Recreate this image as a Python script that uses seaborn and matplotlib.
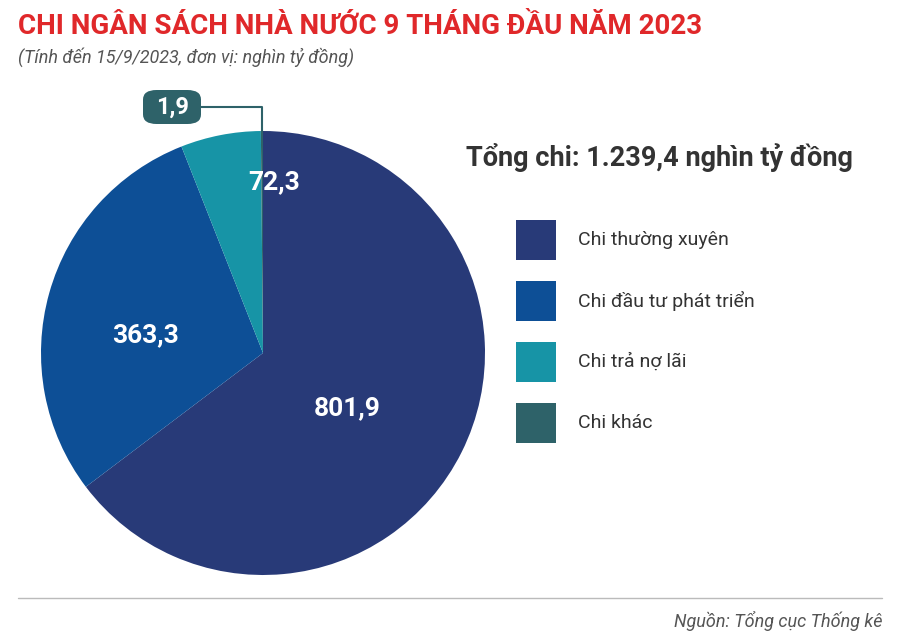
import matplotlib.pyplot as plt
import seaborn as sns
from matplotlib.patches import FancyBboxPatch, Rectangle
from matplotlib.lines import Line2D

labels = ["Chi thường xuyên", "Chi đầu tư phát triển", "Chi trả nợ lãi", "Chi khác"]
values = [801.9, 363.3, 72.3, 1.9]
value_text = ["801,9", "363,3", "72,3", "1,9"]
colors = ["#283a78", "#0d4f96", "#1794a6", "#2e6269"]

sns.set_theme(style="white")
plt.rcParams['font.family'] = ['Roboto', 'DejaVu Sans']

fig = plt.figure(figsize=(9, 6.38), dpi=100)
W, H = 900, 638
def fx(x): return x / W
def fy(y): return 1 - y / H

ax = fig.add_axes([fx(263 - 222), fy(353 + 222), 444 / W, 444 / H])
ax.pie(values, colors=colors, startangle=90, counterclock=False,
       wedgeprops=dict(linewidth=0))
ax.set_aspect('equal')
ax.set_xlim(-1, 1); ax.set_ylim(-1, 1)
ax.axis('off')

# value labels inside slices
pos = {0: (0.38, -0.25), 1: (-0.53, 0.08), 2: (0.05, 0.77)}
for i, (x, y) in pos.items():
    ax.text(x, y, value_text[i], color="white", fontsize=19, fontweight="bold",
            ha="center", va="center")

# callout for small slice
fig.add_artist(Line2D([fx(200), fx(262), fx(262)], [fy(107), fy(107), fy(133)],
                      color="#2e6269", lw=1.5))
fig.add_artist(FancyBboxPatch((fx(143), fy(124)), fx(58), 34 / H,
                              boxstyle="round,pad=0,rounding_size=0.015",
                              fc="#2e6269", ec="none"))
fig.text(fx(172), fy(107), value_text[3], color="white", fontsize=17,
         fontweight="bold", ha="center", va="center")

fig.text(fx(18), fy(26), "CHI NGÂN SÁCH NHÀ NƯỚC 9 THÁNG ĐẦU NĂM 2023",
         color="#e0282a", fontsize=20, fontweight="bold", va="center")
fig.text(fx(18), fy(57), "(Tính đến 15/9/2023, đơn vị: nghìn tỷ đồng)",
         color="#555555", fontsize=13, style="italic", va="center")
fig.text(fx(466), fy(157), "Tổng chi: 1.239,4 nghìn tỷ đồng",
         color="#333333", fontsize=19.5, fontweight="bold", va="center")

for i, lab in enumerate(labels):
    yc = 240 + i * 61
    fig.add_artist(Rectangle((fx(516), fy(yc + 20)), 40 / W, 40 / H,
                             fc=colors[i], ec="none"))
    fig.text(fx(578), fy(yc), lab, color="#333333", fontsize=14, va="center")

fig.add_artist(Line2D([fx(18), fx(882)], [fy(598), fy(598)], color="#bbbbbb", lw=1))
fig.text(fx(882), fy(621), "Nguồn: Tổng cục Thống kê", color="#555555",
         fontsize=13, style="italic", ha="right", va="center")

fig.savefig("out.png", dpi=100, facecolor="white")
